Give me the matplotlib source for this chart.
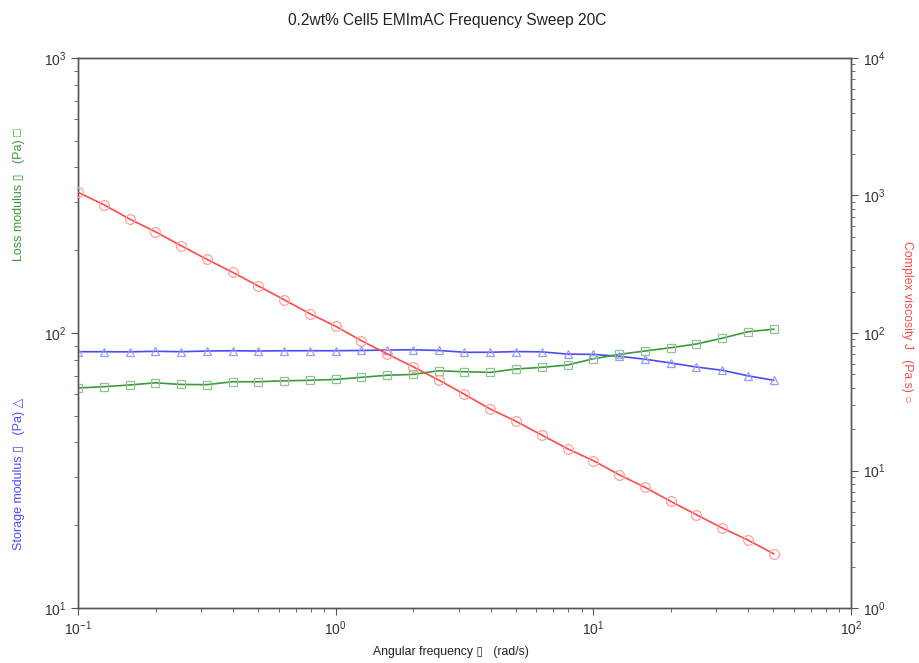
import numpy as np
import matplotlib
matplotlib.use("Agg")
import matplotlib.pyplot as plt
from matplotlib.ticker import LogLocator, LogFormatterMathtext, NullFormatter

plt.rcParams['font.family'] = ['Liberation Sans', 'DejaVu Sans']
plt.rcParams['mathtext.fontset'] = 'custom'
plt.rcParams['mathtext.rm'] = 'Liberation Sans'
plt.rcParams['mathtext.it'] = 'Liberation Sans:italic'

# angular frequency (rad/s)
freq = [0.1, 0.1259, 0.1585, 0.1995, 0.2512, 0.3162, 0.3981, 0.5012, 0.631, 0.7943,
        1.0, 1.259, 1.585, 1.995, 2.512, 3.162, 3.981, 5.012, 6.31, 7.943,
        10.0, 12.59, 15.85, 19.95, 25.12, 31.62, 39.81, 50.12]

# storage modulus G' (Pa)
storage = [85.5, 85.5, 85.4, 85.8, 85.5, 86.0, 86.2, 86.0, 86.2, 86.2,
           86.2, 86.4, 86.7, 86.9, 86.4, 85.1, 85.1, 85.6, 85.4, 83.8,
           83.6, 82.3, 80.3, 77.8, 75.2, 73.2, 69.9, 67.3]

# loss modulus G'' (Pa)
loss = [63.1, 63.8, 64.7, 65.9, 65.0, 64.9, 66.5, 66.5, 67.0, 67.3,
        67.8, 69.0, 70.2, 70.7, 72.9, 72.3, 71.9, 74.0, 75.0, 76.5,
        80.6, 83.6, 86.0, 88.4, 91.2, 95.7, 101.1, 103.2]

# complex viscosity (Pa.s)
viscosity = [1055, 857.5, 674.8, 545.4, 431.4, 343.6, 276.4, 219.7, 174.7, 138.2,
             111.9, 87.9, 70.4, 56.9, 45.5, 35.8, 28.0, 22.8, 18.1, 14.4,
             11.8, 9.32, 7.55, 5.97, 4.77, 3.82, 3.12, 2.48]

BLUE = '#4a4aff'
GREEN = '#3a9a3a'
RED = '#ff4a4a'
AXC = '#555555'

fig = plt.figure(figsize=(9.2, 6.63), dpi=100)
ax = fig.add_axes([78 / 920, 1 - 608 / 663, (851 - 78) / 920, (608 - 58) / 663])
ax2 = ax.twinx()

ax.plot(freq, storage, color=BLUE, lw=1.2, zorder=3)
ax.plot(freq, storage, ls='none', marker='^', ms=6, mfc='none', mec='#9a9aff', mew=0.9, zorder=4)
ax.plot(freq, loss, color=GREEN, lw=1.2, zorder=3)
ax.plot(freq, loss, ls='none', marker='s', ms=6.3, mfc='none', mec='#8fc48f', mew=0.9, zorder=4)
ax2.plot(freq, viscosity, color=RED, lw=1.2, zorder=3)
ax2.plot(freq, viscosity, ls='none', marker='o', ms=7, mfc='none', mec='#ffa0a0', mew=0.9, zorder=4)

ax.set_xscale('log')
ax.set_yscale('log')
ax2.set_yscale('log')
ax.set_xlim(0.1, 100)
ax.set_ylim(10, 1000)
ax2.set_ylim(1, 1e4)

for a in (ax, ax2):
    for s in a.spines.values():
        s.set_color(AXC)
        s.set_linewidth(1.0)
    a.tick_params(which='major', length=5, color=AXC, labelsize=10, labelcolor='#333333')
    a.tick_params(which='minor', length=3, color=AXC)
    a.yaxis.set_major_locator(LogLocator(base=10))
    a.yaxis.set_minor_locator(LogLocator(base=10, subs=np.arange(2, 10)))
    a.yaxis.set_minor_formatter(NullFormatter())
    a.yaxis.set_major_formatter(LogFormatterMathtext())
ax.xaxis.set_major_formatter(LogFormatterMathtext())
ax.xaxis.set_minor_formatter(NullFormatter())

fig.text(447 / 920, 1 - 20 / 663, '0.2wt% Cell5 EMImAC Frequency Sweep 20C',
         ha='center', va='center', fontsize=11.2, color='#222222')
fig.text(451 / 920, 1 - 652 / 663, 'Angular frequency \u25af   (rad/s)',
         ha='center', va='center', fontsize=8.8, color='#222222')
fig.text(19 / 920, 1 - 474 / 663, 'Storage modulus \u25af   (Pa) \u25b3',
         ha='center', va='center', rotation=90, fontsize=9, color=BLUE)
fig.text(19 / 920, 1 - 195 / 663, 'Loss modulus \u25af   (Pa) \u25a1',
         ha='center', va='center', rotation=90, fontsize=9, color=GREEN)
fig.text(907 / 920, 1 - 322 / 663, 'Complex viscosity J   (Pa.s) \u25cb',
         ha='center', va='center', rotation=-90, fontsize=8.8, color=RED)

fig.savefig('out.png', dpi=100)
